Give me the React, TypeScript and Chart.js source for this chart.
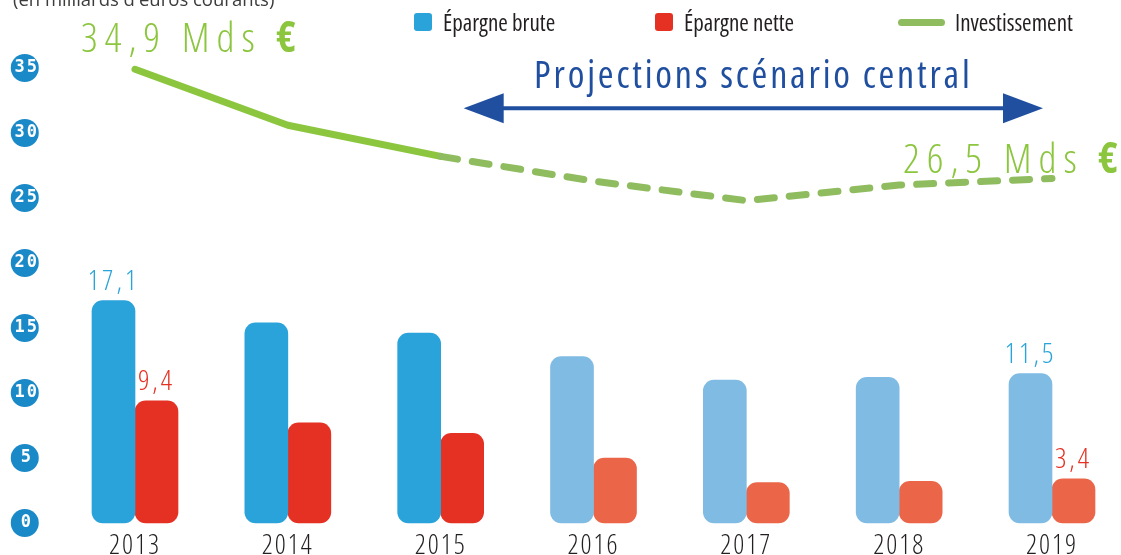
import React, { useEffect, useRef } from 'react';
import { Chart, registerables } from 'chart.js';

Chart.register(...registerables);

// ---- data ----
const years = ['2013', '2014', '2015', '2016', '2017', '2018', '2019'];
const epargneBrute = [17.1, 15.4, 14.6, 12.8, 11.0, 11.2, 11.5];
const epargneNette = [9.4, 7.7, 6.9, 5.0, 3.1, 3.2, 3.4];
const investissement = [34.9, 30.6, 28.2, 26.3, 24.8, 26.0, 26.5];
const yTickValues = [0, 5, 10, 15, 20, 25, 30, 35];
const labelledBarIndexes = [0, 6];
const labelledLineIndexes = [0, 6];
const seriesNames = ['Épargne brute', 'Épargne nette', 'Investissement'];
const firstProjectedBar = 3; // 2016
const firstDashedSegment = 2; // 2015 -> 2016
const projectionFrom = 2; // 2015
const projectionTo = 6; // 2019
const subtitle = "(en milliards d'euros courants)";
const projectionText = 'Projections scénario central';
const unitText = 'Mds';

const SANS = "'Open Sans', 'DejaVu Sans', sans-serif";
const COLORS = {
  brut: '#29a3da',
  brutProj: '#7fbbe3',
  net: '#e53123',
  netProj: '#eb6649',
  inv: '#8cc63f',
  invProj: '#8fbc5f',
  dot: '#1a89c7',
  proj: '#204f9f',
  text: '#231f20',
};

const fmt = (v: number) => v.toFixed(1).replace('.', ',');

export default function App() {
  const ref = useRef<HTMLCanvasElement>(null);

  useEffect(() => {
    document.body.style.margin = '0';
    document.body.style.overflow = 'hidden';
    const canvas = ref.current;
    if (!canvas) return;
    const tickPad = 98;
    const tickFontCss = "bold 17px 'DejaVu Sans Mono', monospace";

    const setFont = (ctx: any, weight: number, size: number, stretch: string, spacing: number) => {
      ctx.font = `${weight} ${stretch} ${size}px ${SANS}`;
      ctx.fontStretch = stretch;
      ctx.letterSpacing = `${spacing}px`;
    };

    const decor = {
      id: 'decor',
      beforeDraw(chart: any) {
        const { ctx } = chart;
        const y = chart.scales.y;
        ctx.save();
        ctx.font = tickFontCss;
        ctx.letterSpacing = '2px';
        const widest = Math.max(...y.ticks.map((t: any) => ctx.measureText(String(t.label)).width));
        const cx = y.right - tickPad - widest / 2;
        ctx.fillStyle = COLORS.dot;
        y.ticks.forEach((t: any) => {
          const cy = y.getPixelForValue(t.value);
          ctx.beginPath();
          ctx.arc(cx, cy, 14, 0, Math.PI * 2);
          ctx.fill();
        });
        ctx.restore();
        ctx.fontStretch = 'condensed';
        ctx.letterSpacing = '2px';
      },
      afterDraw(chart: any) {
        const { ctx } = chart;
        const xs = chart.scales.x;
        const ys = chart.scales.y;
        ctx.save();
        // subtitle (cut at top)
        setFont(ctx, 400, 18.5, 'normal', 0);
        ctx.fillStyle = '#3c3c3b';
        ctx.textAlign = 'left';
        ctx.textBaseline = 'alphabetic';
        ctx.fillText(subtitle, 13, 6);

        // investment labels
        const lineMeta = chart.getDatasetMeta(2);
        const drawMds = (value: number, x: number, y: number, align: 'left' | 'right') => {
          const main = `${fmt(value)} ${unitText} `;
          ctx.fillStyle = COLORS.inv;
          ctx.textBaseline = 'alphabetic';
          ctx.textAlign = 'left';
          setFont(ctx, 300, 41, 'condensed', 7);
          const w1 = ctx.measureText(main).width;
          setFont(ctx, 700, 42, 'condensed', 0);
          const w2 = ctx.measureText('€').width;
          const left = align === 'left' ? x : x - w1 - w2;
          setFont(ctx, 300, 41, 'condensed', 7);
          ctx.fillText(main, left, y);
          setFont(ctx, 700, 42, 'condensed', 0);
          ctx.fillText('€', left + w1, y);
        };
        labelledLineIndexes.forEach((i, k) => {
          const p = lineMeta.data[i];
          if (k === 0) drawMds(investissement[i], p.x - 54, p.y - 17, 'left');
          else drawMds(investissement[i], p.x + 66, p.y - 6, 'right');
        });

        // projection arrow
        const ay = ys.getPixelForValue(31.9);
        const x1 = xs.getPixelForValue(projectionFrom) + 23;
        const x2 = xs.getPixelForValue(projectionTo) - 9;
        const head = 40;
        const half = 15;
        ctx.fillStyle = COLORS.proj;
        ctx.strokeStyle = COLORS.proj;
        ctx.lineWidth = 4;
        ctx.beginPath();
        ctx.moveTo(x1 + head - 2, ay);
        ctx.lineTo(x2 - head + 2, ay);
        ctx.stroke();
        ctx.beginPath();
        ctx.moveTo(x1, ay);
        ctx.lineTo(x1 + head, ay - half);
        ctx.lineTo(x1 + head, ay + half);
        ctx.closePath();
        ctx.fill();
        ctx.beginPath();
        ctx.moveTo(x2, ay);
        ctx.lineTo(x2 - head, ay - half);
        ctx.lineTo(x2 - head, ay + half);
        ctx.closePath();
        ctx.fill();
        setFont(ctx, 400, 38, 'condensed', 2.8);
        ctx.textAlign = 'center';
        ctx.fillText(projectionText, (x1 + x2) / 2, ay - 20);

        // bar value labels
        const bm = chart.getDatasetMeta(0);
        const nm = chart.getDatasetMeta(1);
        setFont(ctx, 300, 28, 'condensed', 3);
        ctx.textAlign = 'center';
        labelledBarIndexes.forEach((i) => {
          const b = bm.data[i];
          ctx.fillStyle = COLORS.brut;
          ctx.fillText(fmt(epargneBrute[i]), b.x, b.y - 11);
          const n = nm.data[i];
          ctx.fillStyle = COLORS.net;
          ctx.fillText(fmt(epargneNette[i]), n.x, n.y - 11);
        });
        ctx.restore();
        ctx.letterSpacing = '0px';
        ctx.fontStretch = 'normal';
      },
    };

    const chart = new Chart(canvas, {
      type: 'bar',
      data: {
        labels: years,
        datasets: [
          {
            label: seriesNames[0],
            data: epargneBrute,
            backgroundColor: (c: any) => (c.dataIndex >= firstProjectedBar ? COLORS.brutProj : COLORS.brut),
            barThickness: 43,
            borderRadius: 11,
            borderSkipped: false,
            clip: false as any,
          },
          {
            label: seriesNames[1],
            data: epargneNette,
            backgroundColor: (c: any) => (c.dataIndex >= firstProjectedBar ? COLORS.netProj : COLORS.net),
            barThickness: 43,
            borderRadius: 11,
            borderSkipped: false,
            clip: false as any,
          },
          {
            type: 'line' as any,
            label: seriesNames[2],
            data: investissement,
            borderColor: COLORS.inv,
            backgroundColor: COLORS.inv,
            borderWidth: 7,
            borderCapStyle: 'round',
            borderJoinStyle: 'round',
            pointRadius: 0,
            tension: 0,
            clip: false as any,
            segment: {
              borderDash: (c: any) => (c.p0DataIndex >= firstDashedSegment ? [17, 15] : undefined),
              borderColor: (c: any) => (c.p0DataIndex >= firstDashedSegment ? COLORS.invProj : COLORS.inv),
            },
          } as any,
        ],
      },
      options: {
        responsive: false,
        animation: false,
        devicePixelRatio: 1,
        layout: { padding: { top: 68, right: 69, left: 0, bottom: 0 } },
        plugins: {
          legend: { display: false },
          tooltip: { enabled: false },
          title: { display: false },
        },
        scales: {
          x: {
            type: 'category',
            offset: false,
            grid: { display: false, drawTicks: false },
            border: { display: false },
            ticks: {
              color: COLORS.text,
              font: { family: SANS, size: 27, weight: '300 condensed' as any },
              padding: 7,
              autoSkip: false,
              maxRotation: 0,
            },
            afterFit: (s: any) => {
              s.height = 32;
            },
          },
          y: {
            min: 0,
            max: 35,
            afterBuildTicks: (s: any) => {
              s.ticks = yTickValues.map((v) => ({ value: v }));
            },
            grid: { display: false, drawTicks: false },
            border: { display: false },
            ticks: {
              color: '#ffffff',
              font: { family: "'DejaVu Sans Mono', monospace", size: 17, weight: 'bold' },
              crossAlign: 'center',
              padding: tickPad,
            },
            afterFit: (s: any) => {
              s.width = 135;
              s.paddingTop = 10;
              s.paddingBottom = 10;
            },
          },
        },
      },
      plugins: [decor],
    } as any);

    return () => chart.destroy();
  }, []);

  const legendLeft = [414, 655, 898];
  const legendSwatch = [
    { w: 18, h: 18, r: 3, c: COLORS.brut, gap: 11 },
    { w: 18, h: 18, r: 3, c: COLORS.net, gap: 11 },
    { w: 47, h: 7, r: 4, c: COLORS.invProj, gap: 10 },
  ];

  return (
    <div style={{ position: 'relative', width: 1121, height: 555, overflow: 'hidden', background: '#fff' }}>
      <canvas ref={ref} width={1121} height={555} style={{ display: 'block' }} />
      {seriesNames.map((name, i) => (
        <div
          key={name}
          style={{
            position: 'absolute',
            left: legendLeft[i],
            top: 10,
            height: 24,
            display: 'flex',
            alignItems: 'center',
            fontFamily: SANS,
            fontStretch: 'condensed',
            fontWeight: 400,
            fontSize: 23,
            color: COLORS.text,
            whiteSpace: 'nowrap',
          }}
        >
          <span
            style={{
              display: 'inline-block',
              width: legendSwatch[i].w,
              height: legendSwatch[i].h,
              borderRadius: legendSwatch[i].r,
              background: legendSwatch[i].c,
              marginRight: legendSwatch[i].gap,
            }}
          />
          <span>{name}</span>
        </div>
      ))}
    </div>
  );
}
